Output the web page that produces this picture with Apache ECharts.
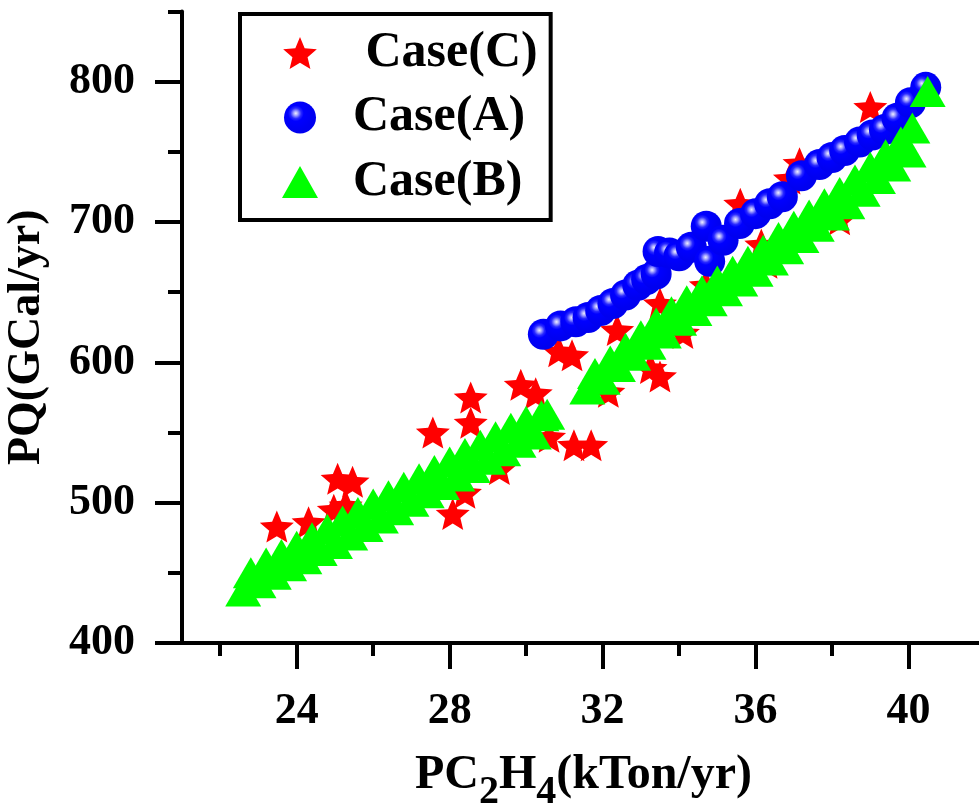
<!DOCTYPE html>
<html>
<head>
<meta charset="utf-8">
<script src="https://cdn.jsdelivr.net/npm/echarts@6/dist/echarts.min.js"></script>
<style>
html,body{margin:0;padding:0;background:#fff;overflow:hidden;}
#chart{width:979px;height:805px;}
</style>
</head>
<body>
<div id="chart"></div>
<script>
// ---- data ----
const seriesNames = ['Case(C)', 'Case(A)', 'Case(B)'];

// Case(C): red stars  [PC2H4, PQ]
const caseC = [
  [23.48, 483], [24.31, 486], [25.07, 517], [25.46, 515], [25.28, 498], [24.97, 495],
  [27.56, 550], [28.55, 575], [28.55, 557], [28.4, 507], [28.08, 492], [29.3, 524],
  [29.86, 584], [30.25, 578], [30.85, 608], [31.2, 605], [30.6, 547], [31.25, 541],
  [31.7, 541], [32.15, 579], [32.38, 623], [33.25, 596], [33.5, 590], [33.5, 642],
  [34.1, 621], [34.7, 655], [35.6, 713], [36.15, 684], [36.3, 671], [36.9, 731],
  [37.15, 742], [38.2, 702], [39.0, 782]
];

// Case(A): blue spheres
const caseA = [
  [30.45, 620], [30.9, 626], [31.3, 629], [31.62, 632], [31.95, 637], [32.27, 642],
  [32.6, 648], [32.92, 655], [33.15, 659], [33.4, 663], [33.45, 679], [33.75, 678],
  [34.0, 676], [34.32, 682], [34.71, 697], [34.8, 672], [35.15, 687], [35.58, 699],
  [36.0, 706], [36.37, 713], [36.7, 718], [37.2, 733], [37.67, 741], [38.0, 746],
  [38.33, 751], [38.72, 757], [39.05, 762], [39.37, 766], [39.7, 774], [40.05, 785],
  [40.45, 796]
];

// Case(B): green triangles
const caseB = [
  [22.6, 437], [22.8, 450], [23.0, 443], [23.2, 457], [23.4, 449], [23.6, 463],
  [23.8, 455], [24.0, 469], [24.2, 460], [24.4, 475], [24.6, 466], [24.8, 481],
  [25.0, 471], [25.2, 487], [25.4, 477], [25.6, 493], [25.8, 483], [26.0, 499],
  [26.2, 489], [26.4, 505], [26.6, 495], [26.8, 511], [27.0, 501], [27.2, 517],
  [27.4, 507], [27.6, 523], [27.8, 513], [28.0, 529], [28.2, 519], [28.4, 535],
  [28.6, 525], [28.8, 541], [29.0, 531], [29.2, 547], [29.4, 537], [29.6, 553],
  [29.8, 543], [30.0, 558], [30.2, 549], [30.4, 562], [30.55, 563],
  [31.6, 581], [31.8, 592], [32.0, 588], [32.2, 601], [32.4, 597], [32.6, 610],
  [32.8, 605], [33.0, 619], [33.2, 613], [33.4, 628], [33.6, 621], [33.8, 636],
  [34.0, 630], [34.2, 644], [34.4, 637], [34.6, 651], [34.8, 644], [35.0, 658],
  [35.2, 651], [35.4, 665], [35.6, 658], [35.8, 672], [36.0, 665], [36.2, 680],
  [36.4, 673], [36.6, 689], [36.8, 681], [37.0, 697], [37.2, 689], [37.4, 705],
  [37.6, 697], [37.8, 713], [38.0, 705], [38.2, 721], [38.4, 713], [38.6, 730],
  [38.8, 722], [39.0, 739], [39.2, 731], [39.4, 748], [39.6, 740], [39.8, 757],
  [40.0, 750], [40.1, 767], [40.5, 793]
];

// axis ticks
const xMajorTicks = [24, 28, 32, 36, 40];
const xMinorTicks = [22, 26, 30, 34, 38];
const yMajorTicks = [400, 500, 600, 700, 800];
const yMinorTicks = [450, 550, 650, 750, 850];

// ---- chart ----
const FONT = "'Liberation Serif', 'Times New Roman', serif";
const starPath = 'path://M50,0L63.2,31.8L97.6,34.5L71.4,57L79.4,90.5L50,72.5L20.6,90.5L28.6,57L2.4,34.5L36.8,31.8Z';
const sphere = {
  type: 'radial', x: 0.37, y: 0.37, r: 0.55,
  colorStops: [
    { offset: 0, color: '#eeeeff' },
    { offset: 0.12, color: '#a8a8ff' },
    { offset: 0.3, color: '#2a2aff' },
    { offset: 0.45, color: '#0000ff' },
    { offset: 1, color: '#0000f0' }
  ]
};

const chart = echarts.init(document.getElementById('chart'), null, { renderer: 'canvas' });

const axisLine = { show: true, onZero: false, lineStyle: { color: '#000', width: 4 } };
const labelStyle = { color: '#000', fontSize: 44, fontWeight: 'bold', fontFamily: FONT };

chart.setOption({
  animation: false,
  backgroundColor: '#fff',
  grid: { left: 182, right: -6, top: 11.6, bottom: 162, containLabel: false, outerBoundsMode: 'none' },
  legend: {
    orient: 'vertical',
    left: 240, top: 14,
    padding: [14, 13, 13, 42],
    itemGap: 14.5,
    itemWidth: 36, itemHeight: 32,
    borderColor: '#000', borderWidth: 4,
    backgroundColor: '#fff',
    selectedMode: false,
    data: [
      { name: 'Case(C)', icon: starPath },
      { name: 'Case(A)', icon: 'circle' },
      { name: 'Case(B)', icon: 'triangle' }
    ],
    formatter: function (name) { return name === 'Case(C)' ? ' ' + name : name; },
    textStyle: {
      color: '#000', fontSize: 50, fontWeight: 'bold', fontFamily: FONT,
      lineHeight: 50, padding: [0, 0, 0, 30]
    }
  },
  xAxis: [
    {
      type: 'value', min: 21, max: 42, position: 'bottom',
      axisLine: axisLine,
      axisTick: { show: true, customValues: xMajorTicks, length: 26, lineStyle: { color: '#000', width: 4 } },
      axisLabel: Object.assign({ customValues: xMajorTicks, margin: 47 }, labelStyle),
      splitLine: { show: false },
      name: '{a|PC}{s|2}{a|H}{s|4}{a|(kTon/yr)}',
      nameLocation: 'middle',
      nameGap: 92,
      nameTextStyle: {
        rich: {
          a: { fontSize: 48, fontWeight: 'bold', fontFamily: FONT, color: '#000', lineHeight: 48 },
          s: { fontSize: 40, fontWeight: 'bold', fontFamily: FONT, color: '#000', lineHeight: 40, padding: [34, 0, 0, 0] }
        }
      }
    },
    {
      type: 'value', min: 21, max: 42, position: 'bottom',
      axisLine: { show: false, onZero: false },
      axisTick: { show: true, customValues: xMinorTicks, length: 13, lineStyle: { color: '#000', width: 4 } },
      axisLabel: { show: false },
      splitLine: { show: false }
    }
  ],
  yAxis: [
    {
      type: 'value', min: 400, max: 850, position: 'left',
      axisLine: axisLine,
      axisTick: { show: true, customValues: yMajorTicks, length: 27, lineStyle: { color: '#000', width: 4 } },
      axisLabel: Object.assign({ customValues: yMajorTicks, margin: 47 }, labelStyle),
      splitLine: { show: false },
      name: 'PQ(GCal/yr)',
      nameLocation: 'middle',
      nameGap: 132,
      nameTextStyle: { color: '#000', fontSize: 46, fontWeight: 'bold', fontFamily: FONT, padding: [0, 20, 0, 0] }
    },
    {
      type: 'value', min: 400, max: 850, position: 'left',
      axisLine: { show: false, onZero: false },
      axisTick: { show: true, customValues: yMinorTicks, length: 14, lineStyle: { color: '#000', width: 4 } },
      axisLabel: { show: false },
      splitLine: { show: false }
    }
  ],
  series: [
    {
      name: 'Case(C)', type: 'scatter', xAxisIndex: 0, yAxisIndex: 0,
      symbol: starPath, symbolSize: [34, 32],
      itemStyle: { color: '#ff0000', opacity: 1 },
      silent: true,
      data: caseC
    },
    {
      name: 'Case(A)', type: 'scatter', xAxisIndex: 0, yAxisIndex: 0,
      symbol: 'circle', symbolSize: 31,
      itemStyle: { color: sphere, opacity: 1 },
      silent: true,
      data: caseA
    },
    {
      name: 'Case(B)', type: 'scatter', xAxisIndex: 0, yAxisIndex: 0,
      symbol: 'triangle', symbolSize: [36, 31],
      itemStyle: { color: '#00ff00', opacity: 1 },
      silent: true,
      data: caseB
    }
  ]
});
</script>
</body>
</html>
